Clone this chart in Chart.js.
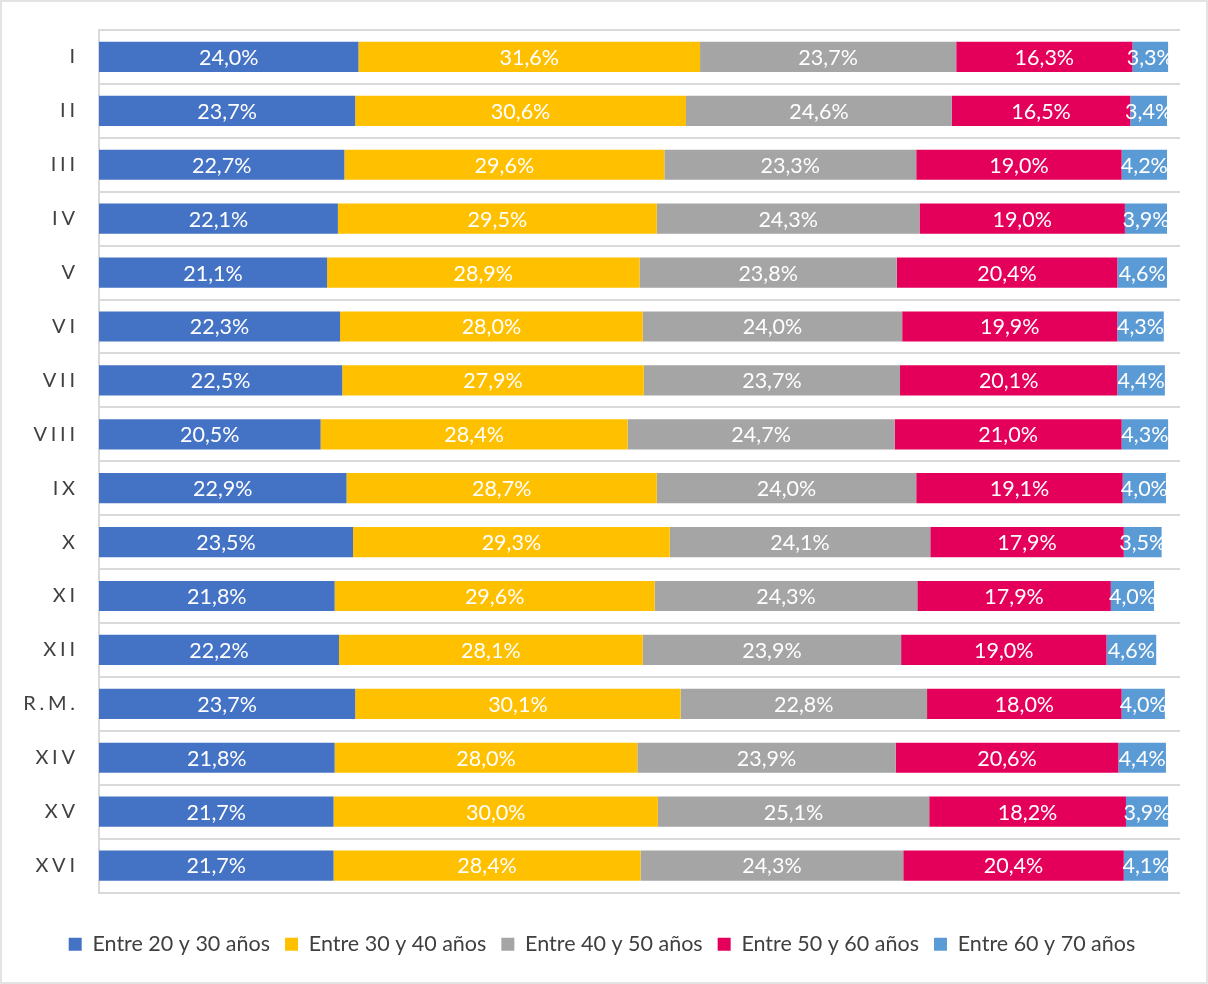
<!DOCTYPE html>
<html>
<head>
<meta charset="utf-8">
<script src="https://cdn.jsdelivr.net/npm/chart.js@4/dist/chart.umd.min.js"></script>
<style>
    body { margin: 0; background: #fff; }
    #wrap { width: 1208px; height: 984px; box-sizing: border-box; border: 2px solid #e3e3e3; }
    canvas { display: block; }
</style>
</head>
<body>
<div id="wrap"><canvas id="chart" width="1204" height="980"></canvas></div>
<script>
    // Regions (as they appear top to bottom)
    var regions = ['I', 'II', 'III', 'IV', 'V', 'VI', 'VII', 'VIII', 'IX', 'X', 'XI', 'XII', 'R.M.', 'XIV', 'XV', 'XVI'];

    // Share of each age bracket per region (%)
    var age20to30 = [24.0, 23.7, 22.7, 22.1, 21.1, 22.3, 22.5, 20.5, 22.9, 23.5, 21.8, 22.2, 23.7, 21.8, 21.7, 21.7];
    var age30to40 = [31.6, 30.6, 29.6, 29.5, 28.9, 28.0, 27.9, 28.4, 28.7, 29.3, 29.6, 28.1, 30.1, 28.0, 30.0, 28.4];
    var age40to50 = [23.7, 24.6, 23.3, 24.3, 23.8, 24.0, 23.7, 24.7, 24.0, 24.1, 24.3, 23.9, 22.8, 23.9, 25.1, 24.3];
    var age50to60 = [16.3, 16.5, 19.0, 19.0, 20.4, 19.9, 20.1, 21.0, 19.1, 17.9, 17.9, 19.0, 18.0, 20.6, 18.2, 20.4];
    var age60to70 = [3.3, 3.4, 4.2, 3.9, 4.6, 4.3, 4.4, 4.3, 4.0, 3.5, 4.0, 4.6, 4.0, 4.4, 3.9, 4.1];

    var seriesNames = ['Entre 20 y 30 años', 'Entre 30 y 40 años', 'Entre 40 y 50 años', 'Entre 50 y 60 años', 'Entre 60 y 70 años'];
    var seriesColors = ['#4472C4', '#FFC000', '#A5A5A5', '#E4005A', '#5B9BD5'];
    var seriesData = [age20to30, age30to40, age40to50, age50to60, age60to70];

    var FONT = 'Lato, "Noto Sans", sans-serif';

    // Draws the value inside each bar segment (no datalabels plugin available)
    var valueLabels = {
        id: 'valueLabels',
        afterDatasetsDraw: function (chart) {
            var ctx = chart.ctx;
            ctx.save();
            ctx.font = '21.5px ' + FONT;
            ctx.fillStyle = '#ffffff';
            ctx.textAlign = 'center';
            ctx.textBaseline = 'middle';
            chart.data.datasets.forEach(function (ds, i) {
                chart.getDatasetMeta(i).data.forEach(function (bar, j) {
                    var p = bar.getCenterPoint();
                    var txt = ds.data[j].toFixed(1).replace('.', ',') + '%';
                    ctx.fillText(txt, p.x, p.y + 1);
                });
            });
            ctx.restore();
        }
    };

    new Chart(document.getElementById('chart'), {
        type: 'bar',
        data: {
            labels: regions,
            datasets: seriesData.map(function (values, i) {
                return {
                    label: seriesNames[i],
                    data: values,
                    backgroundColor: seriesColors[i],
                    borderWidth: 0,
                    barPercentage: 0.56,
                    categoryPercentage: 1
                };
            })
        },
        options: {
            indexAxis: 'y',
            responsive: false,
            animation: false,
            devicePixelRatio: 1,
            layout: { padding: { top: 28, right: 26, left: 22, bottom: 17 } },
            scales: {
                x: {
                    stacked: true,
                    display: false,
                    min: 0,
                    max: 100
                },
                y: {
                    stacked: true,
                    offset: true,
                    grid: { offset: true, color: '#d9d9d9', lineWidth: 2, drawTicks: false },
                    border: { color: '#d9d9d9', width: 2 },
                    ticks: {
                        color: '#404040',
                        font: { family: FONT, size: 20 },
                        padding: 24,
                        // spread the roman numerals out a bit like the original
                        callback: function (value) {
                            return this.getLabelForValue(value).split('').join('\u2009\u200a');
                        }
                    },
                    afterFit: function (scale) {
                        scale.width = 75;
                        // tick padding would otherwise push the plot top down
                        scale.paddingTop = 0;
                        scale.paddingBottom = 0;
                    }
                }
            },
            plugins: {
                legend: {
                    position: 'bottom',
                    // empty title only used as spacer between plot and legend
                    title: { display: true, text: ' ', font: { size: 10 }, padding: { top: 14, bottom: 0 } },
                    labels: {
                        color: '#404040',
                        font: { family: FONT, size: 21.5 },
                        boxWidth: 13,
                        boxHeight: 13,
                        padding: 15
                    }
                },
                tooltip: { enabled: false }
            }
        },
        plugins: [valueLabels]
    });
</script>
</body>
</html>
